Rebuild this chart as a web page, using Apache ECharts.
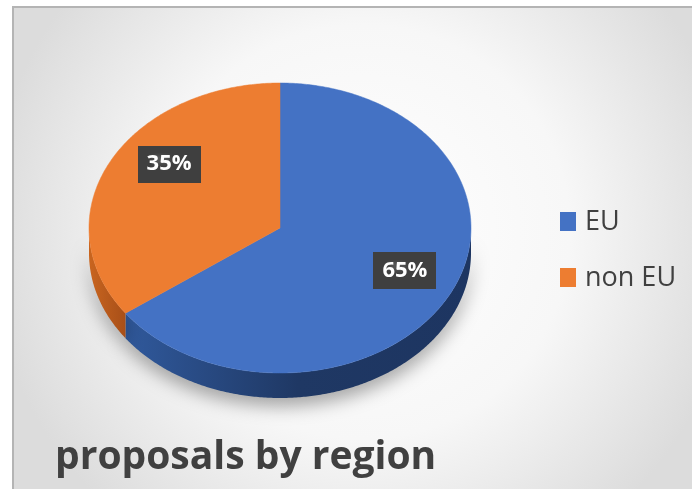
<!DOCTYPE html>
<html>
<head>
<meta charset="utf-8">
<script src="https://cdn.jsdelivr.net/npm/echarts@6/dist/echarts.min.js"></script>
<style>
html,body{margin:0;padding:0;background:#fff;}
#chart{width:692px;height:489px;}
</style>
</head>
<body>
<div id="chart"></div>
<script>
const categories = ['EU', 'non EU'];
const values = [65, 35];
const labels = ['65%', '35%'];
const titleText = 'proposals by region';

const colors = ['#4472C4', '#ED7D31'];
const sideColors = [
  ['#30599c', '#1f3864', '#1d3561'],
  ['#c9651f', '#b85a1c', '#a84f18']
];

const chart = echarts.init(document.getElementById('chart'));

const CX = 280, CY = 228, RX = 191, RY = 145, DEPTH = 25;
const total = values.reduce((a, b) => a + b, 0);

function pt(theta, dy) {
  return [CX + RX * Math.sin(theta), CY - RY * Math.cos(theta) + (dy || 0)];
}
function arcPts(a, b, dy) {
  const pts = [];
  const n = Math.max(2, Math.ceil(Math.abs(b - a) / 0.01));
  for (let i = 0; i <= n; i++) pts.push(pt(a + (b - a) * i / n, dy));
  return pts;
}
function angles(idx) {
  let s = 0;
  for (let i = 0; i < idx; i++) s += values[i];
  return [s / total * Math.PI * 2, (s + values[idx]) / total * Math.PI * 2];
}

// dotted pattern for label background
const pat = document.createElement('canvas');
pat.width = 8; pat.height = 8;
const pc = pat.getContext('2d');
pc.fillStyle = '#3f3f3f'; pc.fillRect(0, 0, 8, 8);
pc.fillStyle = '#555555'; pc.fillRect(2, 2, 2, 2);

const seriesData = categories.map((c, i) => ({ name: c, value: values[i] }));

const option = {
  animation: false,
  backgroundColor: '#ffffff',
  graphic: [
    {
      type: 'rect', z: -10,
      shape: { x: 13, y: 7, width: 700, height: 500 },
      style: {
        fill: new echarts.graphic.RadialGradient(0.5, 0.45, 0.75, [
          { offset: 0, color: '#ffffff' },
          { offset: 0.55, color: '#f7f7f7' },
          { offset: 1, color: '#dcdcdc' }
        ]),
        stroke: '#b4b4b4', lineWidth: 2
      }
    }
  ].concat(categories.flatMap((c, i) => [
    {
      type: 'rect',
      shape: { x: 560, y: 212 + i * 56, width: 16, height: 19 },
      style: { fill: colors[i] }
    },
    {
      type: 'text',
      style: {
        x: 585, y: 222 + i * 56, text: c,
        fill: '#404040', font: '27px "Open Sans", sans-serif',
        verticalAlign: 'middle'
      }
    }
  ])).concat([
    {
      type: 'text',
      style: {
        x: 55, y: 458, text: titleText,
        fill: '#404040', font: 'bold 39px "Open Sans", sans-serif',
        verticalAlign: 'middle'
      }
    }
  ]),
  series: [
    {
      type: 'custom', name: 'side', coordinateSystem: 'none', z: 1,
      data: seriesData,
      renderItem: function (params, api) {
        const i = params.dataIndex;
        let [a, b] = angles(i);
        const lo = Math.max(a, Math.PI / 2), hi = Math.min(b, Math.PI * 1.5);
        if (hi <= lo) return { type: 'group', children: [] };
        const top = arcPts(lo, hi, 0);
        const bot = arcPts(lo, hi, DEPTH).reverse();
        return {
          type: 'polygon',
          shape: { points: top.concat(bot) },
          style: {
            fill: new echarts.graphic.LinearGradient(0, 0, 1, 0, [
              { offset: 0, color: sideColors[i][0] },
              { offset: 0.5, color: sideColors[i][1] },
              { offset: 1, color: sideColors[i][2] }
            ]),
            shadowBlur: 18, shadowColor: 'rgba(0,0,0,0.35)', shadowOffsetY: 8
          }
        };
      }
    },
    {
      type: 'custom', name: 'top', coordinateSystem: 'none', z: 2,
      data: seriesData,
      renderItem: function (params, api) {
        const i = params.dataIndex;
        const [a, b] = angles(i);
        const pts = [[CX, CY]].concat(arcPts(a, b, 0));
        return {
          type: 'polygon',
          shape: { points: pts },
          style: { fill: colors[i], stroke: colors[i], lineWidth: 0.5 }
        };
      }
    },
    {
      type: 'custom', name: 'labels', coordinateSystem: 'none', z: 3,
      data: seriesData,
      renderItem: function (params, api) {
        const i = params.dataIndex;
        const [a, b] = angles(i);
        const m = (a + b) / 2;
        const x = 287 + RX * 0.693 * Math.sin(m);
        const y = 217.5 - RY * 0.81 * Math.cos(m);
        return {
          type: 'text',
          style: {
            x: x, y: y, text: labels[i],
            fill: '#ffffff', font: 'bold 22px "Open Sans", sans-serif',
            align: 'center', verticalAlign: 'middle',
            backgroundColor: { image: pat, repeat: 'repeat' },
            padding: [9, 9, 6, 9],
            boxShadowBlur: 6, boxShadowColor: 'rgba(0,0,0,0.45)',
            boxShadowOffsetX: 3, boxShadowOffsetY: 3
          }
        };
      }
    }
  ]
};
chart.setOption(option);
</script>
</body>
</html>
